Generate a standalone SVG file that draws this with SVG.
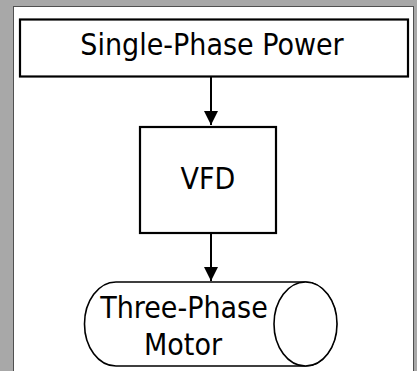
<svg xmlns="http://www.w3.org/2000/svg" width="417" height="371" viewBox="0 0 417 371">
<defs>
<style>
.box{fill:#fff;stroke:#000;stroke-width:2.2}
.cyl{fill:#fff;stroke:#000;stroke-width:1.6}
.lbl{font-family:"DejaVu Sans Condensed","Liberation Sans",Arial,sans-serif;font-stretch:condensed;font-size:30px;fill:#000;text-anchor:middle}
.conn{stroke:#000;stroke-width:2;fill:none}
</style>
<marker id="ah" markerWidth="15" markerHeight="14" refX="14" refY="7" orient="auto" markerUnits="userSpaceOnUse">
<path d="M0,0 L14,7 L0,14 Z" fill="#000"/>
</marker>
</defs>
<rect x="0" y="0" width="417" height="371" fill="#a8a8a8"/>
<rect x="13.5" y="6.5" width="400" height="370" fill="#fff" stroke="#505050" stroke-width="1"/>
<g id="connectors">
<line class="conn" x1="211" y1="77" x2="211" y2="125" marker-end="url(#ah)"/>
<line class="conn" x1="211" y1="234" x2="211" y2="281" marker-end="url(#ah)"/>
</g>
<g id="single-phase-power">
<rect class="box" x="20" y="19.5" width="388" height="57"/>
<text class="lbl" x="212" y="55">Single-Phase Power</text>
</g>
<g id="vfd">
<rect class="box" x="140" y="127" width="136" height="106"/>
<text class="lbl" x="208" y="189">VFD</text>
</g>
<g id="three-phase-motor">
<path class="cyl" d="M116,282 L305,282 A31.5,42 0 0 1 305,366 L116,366 A31.5,42 0 0 1 116,282 Z"/>
<ellipse class="cyl" cx="305.5" cy="324" rx="31.5" ry="42"/>
<text class="lbl" x="184" y="318">Three-Phase</text>
<text class="lbl" x="183" y="355">Motor</text>
</g>
</svg>
